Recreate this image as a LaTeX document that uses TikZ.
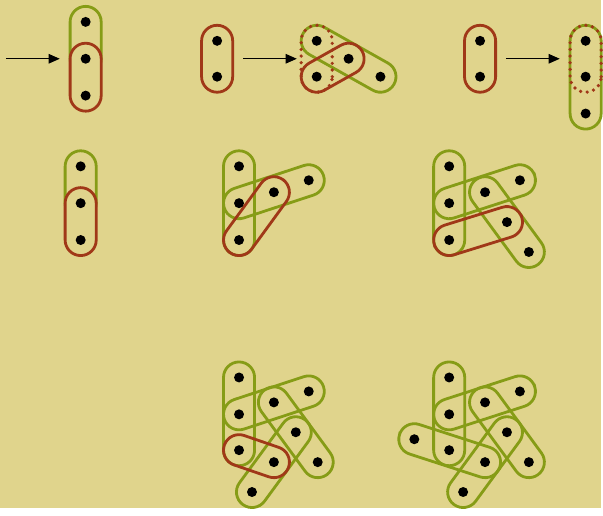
\documentclass[tikz,border=0pt]{standalone}
\usetikzlibrary{calc,arrows.meta,backgrounds}
\definecolor{paper}{RGB}{224,212,140}
\definecolor{edgegreen}{RGB}{134,156,22}
\definecolor{edgered}{RGB}{160,56,24}
\pgfdeclarelayer{paperlayer}
\pgfsetlayers{paperlayer,background,main}
\newcommand{\capsule}[3]{\path let \p1=($(#3)-(#2)$), \n1={atan2(\y1,\x1)}, \n2={veclen(\x1,\y1)} in ($(#2)!0.5!(#3)$) node[#1, rotate=\n1, minimum width=\n2+0.78cm] {};}

\begin{document}
\begin{tikzpicture}[x=0.025cm, y=-0.025cm,
  pt/.style={circle, fill=black, inner sep=0pt, minimum size=0.25cm},
  capsule/.style={rectangle, draw=#1, line width=2pt, rounded corners=0.39cm, minimum height=0.78cm, inner sep=0pt},
  ghost/.style={capsule=edgered, line width=2.6pt, dash pattern=on 0pt off 0.167cm, line cap=round},
  arr/.style={-{Triangle[length=0.28cm, width=0.24cm]}, line width=0.8pt, black}
]
  \begin{pgfonlayer}{paperlayer}
    \fill[paper] (0,0) rectangle (603,510);
  \end{pgfonlayer}

  % top row
  \node[pt] (a1) at (86,22) {}; \node[pt] (a2) at (86,59) {}; \node[pt] (a3) at (86,96) {};
  \coordinate (s1) at (6,59); \coordinate (t1) at (60,59);

  \node[pt] (b1) at (218,41) {}; \node[pt] (b2) at (218,77) {};
  \coordinate (s2) at (244,59); \coordinate (t2) at (298,59);
  \node[pt] (d1) at (318,41) {}; \node[pt] (d2) at (350,59) {};
  \node[pt] (d3) at (318,77) {}; \node[pt] (d4) at (382,77) {};

  \node[pt] (e1) at (482,41) {}; \node[pt] (e2) at (482,77) {};
  \coordinate (s3) at (508,59); \coordinate (t3) at (562,59);
  \node[pt] (f1) at (588,41) {}; \node[pt] (f2) at (588,77) {}; \node[pt] (f3) at (588,114) {};

  % middle row
  \node[pt] (g1) at (81,167) {}; \node[pt] (g2) at (81,204) {}; \node[pt] (g3) at (81,241) {};

  \node[pt] (h1) at (240,167) {}; \node[pt] (h2) at (240,204) {}; \node[pt] (h3) at (240,241) {};
  \node[pt] (h4) at (275,193) {}; \node[pt] (h5) at (310,181) {};

  \node[pt] (i1) at (451,167) {}; \node[pt] (i2) at (451,204) {}; \node[pt] (i3) at (451,241) {};
  \node[pt] (i4) at (487,193) {}; \node[pt] (i5) at (522,181) {};
  \node[pt] (i6) at (509,223) {}; \node[pt] (i7) at (531,253) {};

  % bottom row
  \node[pt] (j1) at (240,379) {}; \node[pt] (j2) at (240,416) {}; \node[pt] (j3) at (240,452) {};
  \node[pt] (j4) at (275,404) {}; \node[pt] (j5) at (310,393) {};
  \node[pt] (j6) at (297,434) {}; \node[pt] (j7) at (319,464) {};
  \node[pt] (j8) at (275,464) {}; \node[pt] (j9) at (253,494) {};

  \node[pt] (k1) at (451,379) {}; \node[pt] (k2) at (451,416) {}; \node[pt] (k3) at (451,452) {};
  \node[pt] (k4) at (487,404) {}; \node[pt] (k5) at (522,393) {};
  \node[pt] (k6) at (509,434) {}; \node[pt] (k7) at (531,464) {};
  \node[pt] (k8) at (487,464) {}; \node[pt] (k9) at (465,494) {};
  \node[pt] (k10) at (416,441) {};

  \begin{scope}[on background layer]
  \capsule{capsule=edgegreen}{a1}{a2}
  \capsule{capsule=edgered, fill=paper}{a2}{a3}
  \capsule{capsule=edgered}{b1}{b2}
  \capsule{capsule=edgegreen}{d1}{d4}
  \capsule{capsule=edgered}{d3}{d2}
  \capsule{ghost}{d1}{d3}
  \capsule{capsule=edgered}{e1}{e2}
  \capsule{capsule=edgegreen}{f1}{f3}
  \capsule{ghost}{f1}{f2}

  \capsule{capsule=edgegreen}{g1}{g2}
  \capsule{capsule=edgered, fill=paper}{g2}{g3}
  \capsule{capsule=edgegreen}{h1}{h3}
  \capsule{capsule=edgegreen}{h2}{h5}
  \capsule{capsule=edgered}{h3}{h4}
  \capsule{capsule=edgegreen}{i1}{i3}
  \capsule{capsule=edgegreen}{i2}{i5}
  \capsule{capsule=edgegreen}{i4}{i7}
  \capsule{capsule=edgered}{i3}{i6}

  \capsule{capsule=edgegreen}{j1}{j3}
  \capsule{capsule=edgegreen}{j2}{j5}
  \capsule{capsule=edgegreen}{j4}{j7}
  \capsule{capsule=edgegreen}{j6}{j9}
  \capsule{capsule=edgered}{j3}{j8}
  \capsule{capsule=edgegreen}{k1}{k3}
  \capsule{capsule=edgegreen}{k2}{k5}
  \capsule{capsule=edgegreen}{k4}{k7}
  \capsule{capsule=edgegreen}{k6}{k9}
  \capsule{capsule=edgegreen}{k10}{k8}
  \end{scope}

  \draw[arr] (s1) -- (t1);
  \draw[arr] (s2) -- (t2);
  \draw[arr] (s3) -- (t3);
\end{tikzpicture}
\end{document}
